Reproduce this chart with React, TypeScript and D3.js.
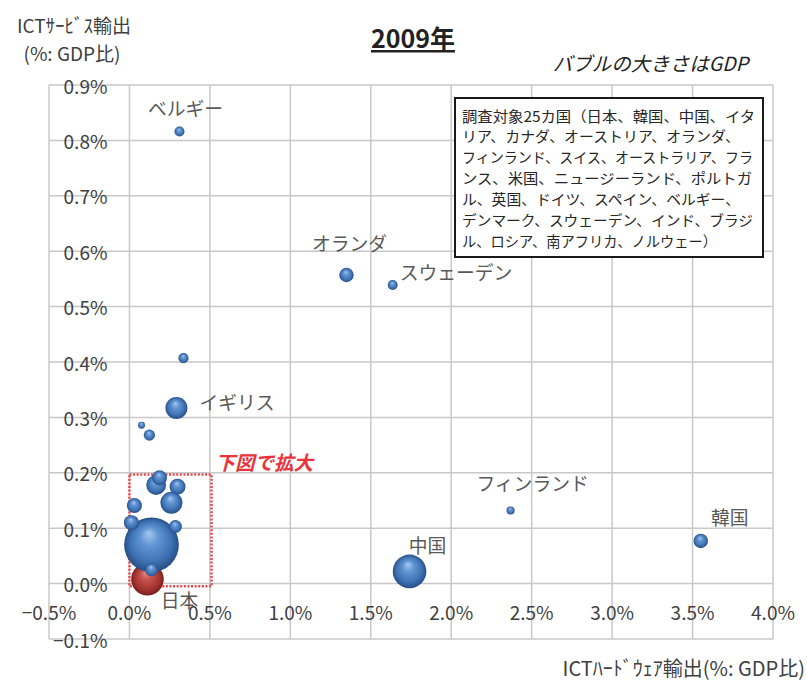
import React from 'react';
import * as d3 from 'd3';

// ---- Data ----
const countries = [
  'ドイツ', 'フランス', 'ロシア', '南アフリカ', 'ニュージーランド',
  '日本', '米国',
  'ベルギー', 'オランダ', 'スウェーデン', 'スイス', '英国', 'ポルトガル', 'デンマーク',
  'フィンランド', '韓国', '中国',
  'ブラジル', 'オーストラリア', 'スペイン', 'イタリア', 'カナダ', 'インド', 'オーストリア', 'ノルウェー',
];
// ICT hardware exports (% of GDP)
const hwExport = [
  0.15, 0.16, 0.17, 0.13, 0.12,
  0.112, 0.137,
  0.311, 1.349, 1.636, 0.336, 0.292, 0.075, 0.124,
  2.369, 3.551, 1.741,
  0.166, 0.187, 0.299, 0.261, 0.031, 0.012, 0.286, 0.137,
];
// ICT service exports (% of GDP)
const svcExport = [
  0.065, 0.08, 0.055, 0.075, 0.085,
  0.008, 0.070,
  0.816, 0.557, 0.539, 0.407, 0.317, 0.286, 0.268,
  0.132, 0.077, 0.022,
  0.178, 0.191, 0.175, 0.146, 0.141, 0.110, 0.103, 0.025,
];
// GDP (trillion USD, bubble size)
const gdp = [
  3.3, 2.7, 1.2, 0.29, 0.12,
  4.6, 13.0,
  0.43, 0.9, 0.43, 0.45, 2.1, 0.21, 0.55,
  0.28, 0.9, 4.9,
  1.7, 0.97, 1.1, 2.1, 0.97, 0.97, 0.73, 0.73,
];
const highlighted = ['日本'];

const xTicks = [-0.5, 0, 0.5, 1.0, 1.5, 2.0, 2.5, 3.0, 3.5, 4.0];
const yTicks = [-0.1, 0, 0.1, 0.2, 0.3, 0.4, 0.5, 0.6, 0.7, 0.8, 0.9];

const pointLabels = ['ベルギー', 'オランダ', 'スウェーデン', 'イギリス', 'フィンランド', '韓国', '中国', '日本'];
const pointLabelOf = ['ベルギー', 'オランダ', 'スウェーデン', '英国', 'フィンランド', '韓国', '中国', '日本'];

const zoomBoxX = [0, 0.51];
const zoomBoxY = [-0.005, 0.197];
const zoomLabel = '下図で拡大';

const title = '2009年';
const subtitle = 'バブルの大きさはGDP';
const yTitle = ['ICTｻｰﾋﾞｽ輸出', '(%: GDP比)'];
const xTitle = 'ICTﾊｰﾄﾞｳｪｱ輸出(%: GDP比)';

const legendLines = [
  '調査対象25カ国（日本、韓国、中国、イタ',
  'リア、カナダ、オーストリア、オランダ、',
  'フィンランド、スイス、オーストラリア、フラ',
  'ンス、米国、ニュージーランド、ポルトガ',
  'ル、英国、ドイツ、スペイン、ベルギー、',
  'デンマーク、スウェーデン、インド、ブラジ',
  'ル、ロシア、南アフリカ、ノルウェー）',
];

// ---- Layout ----
const W = 807;
const H = 682;
const plot = { left: 49, right: 773, top: 85, bottom: 639 };
const FONT = '"Noto Sans CJK JP", "Noto Sans", sans-serif';

const labelPlacement: Record<string, { dx: number; dy: number; anchor: string }> = {
  'ベルギー': { dx: 6, dy: -24, anchor: 'middle' },
  'オランダ': { dx: 3, dy: -33, anchor: 'middle' },
  'スウェーデン': { dx: 7, dy: -13, anchor: 'start' },
  'イギリス': { dx: 23, dy: -6, anchor: 'start' },
  'フィンランド': { dx: 22, dy: -28, anchor: 'middle' },
  '韓国': { dx: 29, dy: -24, anchor: 'middle' },
  '中国': { dx: 18, dy: -27, anchor: 'middle' },
  '日本': { dx: 32, dy: 20, anchor: 'middle' },
};
const legendLineWidths = [293, 278, 291, 290, 278, 291, 255];

export default function App() {
  const x = d3.scaleLinear().domain([-0.5, 4.0]).range([plot.left, plot.right]);
  const y = d3.scaleLinear().domain([-0.1, 0.9]).range([plot.bottom, plot.top]);
  const r = d3.scaleSqrt().domain([0, 14]).range([0, 28.4]);
  const pct = (v: number) => d3.format('.1f')(v) + '%';

  const points = countries.map((c, i) => ({
    name: c,
    x: hwExport[i],
    y: svcExport[i],
    size: gdp[i],
    red: highlighted.includes(c),
  }));

  return (
    <div style={{ position: 'absolute', left: 0, top: 0 }}>
      <svg width={W} height={H} style={{ display: 'block', background: '#fff' }}>
        <defs>
          <radialGradient id="ballBlue" cx="50%" cy="50%" r="50%" fx="45%" fy="28%">
            <stop offset="0%" stopColor="#a6c8ee" />
            <stop offset="35%" stopColor="#5f93d2" />
            <stop offset="75%" stopColor="#3f72b2" />
            <stop offset="100%" stopColor="#264f86" />
          </radialGradient>
          <radialGradient id="ballRed" cx="50%" cy="50%" r="50%" fx="45%" fy="28%">
            <stop offset="0%" stopColor="#e8908c" />
            <stop offset="35%" stopColor="#c4524e" />
            <stop offset="75%" stopColor="#a33431" />
            <stop offset="100%" stopColor="#7a1f1d" />
          </radialGradient>
        </defs>

        {/* grid */}
        <g stroke="#c8c8c8" strokeWidth={1.5}>
          {xTicks.map((t) => (
            <line key={'gx' + t} x1={x(t)} x2={x(t)} y1={plot.top} y2={plot.bottom} />
          ))}
          {yTicks.map((t) => (
            <line key={'gy' + t} x1={plot.left} x2={plot.right} y1={y(t)} y2={y(t)} />
          ))}
        </g>

        {/* y tick labels */}
        <g fontFamily={FONT} fontSize={19} fill="#404040">
          {yTicks.map((t) => (
            <text key={'ly' + t} x={x(0) - 22} y={y(t)} textAnchor="end" dominantBaseline="central">
              {pct(t)}
            </text>
          ))}
          {xTicks.map((t) => (
            <text key={'lx' + t} x={x(t)} y={y(0) + 28} textAnchor="middle" dominantBaseline="central">
              {pct(t)}
            </text>
          ))}
        </g>

        {/* zoom box */}
        <rect
          x={x(zoomBoxX[0])}
          y={y(zoomBoxY[1])}
          width={x(zoomBoxX[1]) - x(zoomBoxX[0])}
          height={y(zoomBoxY[0]) - y(zoomBoxY[1])}
          fill="none"
          stroke="#e8474c"
          strokeWidth={2.5}
          strokeDasharray="2 1.6"
        />

        {/* bubbles */}
        <g>
          {points.map((p) => (
            <circle
              key={p.name}
              cx={x(p.x)}
              cy={y(p.y)}
              r={r(p.size)}
              fill={p.red ? 'url(#ballRed)' : 'url(#ballBlue)'}
            />
          ))}
        </g>

        {/* point labels */}
        <g fontFamily={FONT} fontSize={18.8} fill="#595959">
          {pointLabels.map((lab, i) => {
            const p = points.find((q) => q.name === pointLabelOf[i])!;
            const pl = labelPlacement[lab];
            return (
              <text
                key={lab}
                x={x(p.x) + pl.dx}
                y={y(p.y) + pl.dy}
                textAnchor={pl.anchor as any}
                dominantBaseline="central"
              >
                {lab}
              </text>
            );
          })}
        </g>

        <text
          x={x(zoomBoxX[1]) + 4}
          y={y(zoomBoxY[1]) - 13}
          fontFamily={FONT}
          fontSize={19.5}
          fontWeight="bold"
          fontStyle="italic"
          fill="#e8343c"
          dominantBaseline="central"
        >
          {zoomLabel}
        </text>

        {/* legend box */}
        <rect x={455} y={98} width={308} height={159} fill="#fff" stroke="#1a1a1a" strokeWidth={2} />
        <g fontFamily={FONT} fontSize={14.6} fill="#262626">
          {legendLines.map((ln, i) => (
            <text
              key={i}
              x={462}
              y={115 + i * 20.9}
              dominantBaseline="central"
              textLength={legendLineWidths[i]}
              lengthAdjust="spacingAndGlyphs"
            >
              {ln}
            </text>
          ))}
        </g>

        {/* titles */}
        <text
          x={413}
          y={37}
          textAnchor="middle"
          dominantBaseline="central"
          fontFamily={FONT}
          fontSize={25}
          fontWeight="bold"
          fill="#222"
          style={{ textDecoration: 'underline' }}
        >
          {title}
        </text>
        <text
          x={748}
          y={62}
          textAnchor="end"
          dominantBaseline="central"
          fontFamily={FONT}
          fontSize={19.5}
          fontStyle="italic"
          fill="#222"
        >
          {subtitle}
        </text>
        <g fontFamily={FONT} fontSize={19} fill="#404040" textAnchor="middle">
          <text x={74} y={24} dominantBaseline="central">{yTitle[0]}</text>
          <text x={72} y={52} dominantBaseline="central">{yTitle[1]}</text>
        </g>
        <text
          x={805}
          y={667}
          textAnchor="end"
          dominantBaseline="central"
          fontFamily={FONT}
          fontSize={20}
          fill="#404040"
        >
          {xTitle}
        </text>
      </svg>
    </div>
  );
}
